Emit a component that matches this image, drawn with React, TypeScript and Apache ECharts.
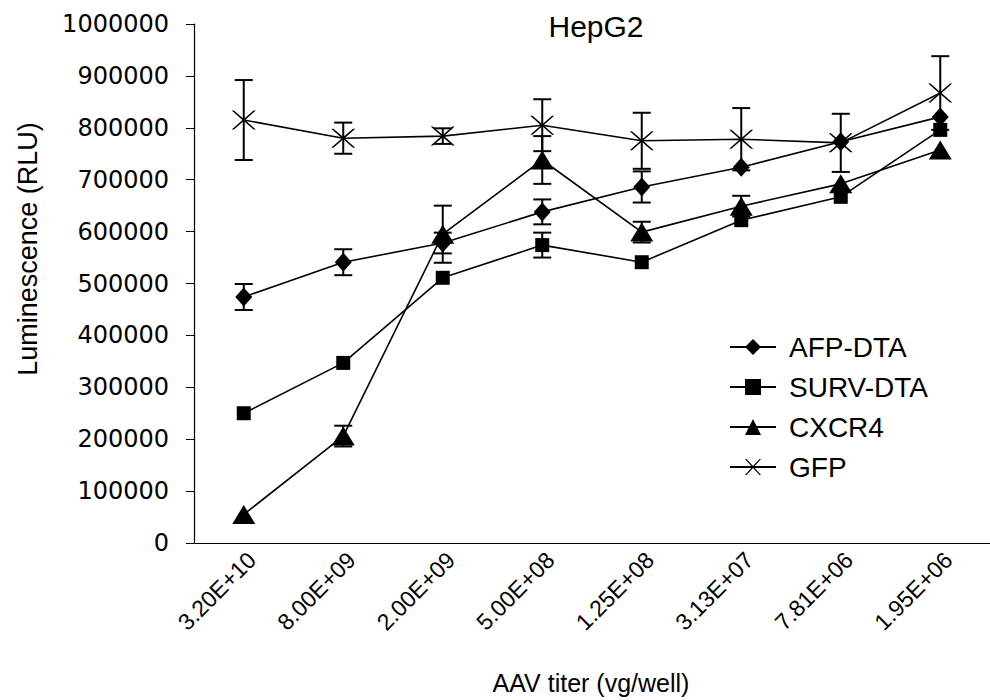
import React, { useEffect, useRef } from 'react';
import * as echarts from 'echarts';

const categories = ['3.20E+10', '8.00E+09', '2.00E+09', '5.00E+08', '1.25E+08', '3.13E+07', '7.81E+06', '1.95E+06'];

const afpDta = [474000, 541000, 578000, 638000, 686000, 724000, 773000, 821000];
const afpErr = [25000, 25000, 20000, 24000, 30000, 0, 0, 0];

const survDta = [250000, 347000, 511000, 574000, 541000, 622000, 667000, 796000];
const survErr = [0, 0, 0, 24000, 0, 0, 0, 0];

const cxcr4 = [55000, 206000, 595000, 738000, 599000, 649000, 692000, 757000];
const cxcr4Err = [0, 20000, 55000, 46000, 20000, 20000, 0, 0];

const gfp = [815000, 780000, 784000, 805000, 775000, 778000, 771000, 867000];
const gfpErr = [77000, 30000, 15000, 50000, 54000, 60000, 56000, 71000];

const titleText = 'HepG2';
const xName = 'AAV titer (vg/well)';
const yName = 'Luminescence (RLU)';

const X_SYMBOL = 'path://M0,0 L2.2,0 L12,8 L21.8,0 L24,0 L13.3,9 L24,18 L21.8,18 L12,10 L2.2,18 L0,18 L10.7,9 Z';

function errData(vals: number[], errs: number[]) {
  const out: number[][] = [];
  vals.forEach((v, i) => {
    if (errs[i] > 0) out.push([i, v - errs[i], v + errs[i]]);
  });
  return out;
}

export default function App() {
  const ref = useRef<HTMLDivElement>(null);
  useEffect(() => {
    if (!ref.current) return;
    const chart = echarts.init(ref.current, undefined, { renderer: 'svg' });
    const errRender = (params: any, api: any) => {
      const x = api.value(0);
      const lo = api.coord([x, api.value(1)]);
      const hi = api.coord([x, api.value(2)]);
      const w = 9;
      const st = { stroke: '#000', lineWidth: 2 };
      return {
        type: 'group',
        children: [
          { type: 'line', shape: { x1: hi[0], y1: hi[1], x2: lo[0], y2: lo[1] }, style: st },
          { type: 'line', shape: { x1: hi[0] - w, y1: hi[1], x2: hi[0] + w, y2: hi[1] }, style: st },
          { type: 'line', shape: { x1: lo[0] - w, y1: lo[1], x2: lo[0] + w, y2: lo[1] }, style: st },
        ],
      };
    };
    const errSeries = (name: string, vals: number[], errs: number[]) => ({
      type: 'custom',
      name: name + ' error',
      renderItem: errRender,
      data: errData(vals, errs),
      encode: { x: 0, y: [1, 2] },
      z: 3,
      silent: true,
    });
    const lineBase = {
      type: 'line',
      lineStyle: { color: '#000', width: 1.6 },
      itemStyle: { color: '#000' },
      z: 4,
    };
    chart.setOption({
      animation: false,
      backgroundColor: '#fff',
      title: {
        text: titleText,
        left: 591,
        top: 6,
        textAlign: 'center',
        textStyle: { fontFamily: 'Liberation Sans', fontSize: 30, fontWeight: 'normal', color: '#000' },
      },
      legend: {
        orient: 'vertical',
        left: 729,
        top: 333,
        padding: 0,
        itemWidth: 46,
        itemHeight: 20,
        itemGap: 12,
        data: ['AFP-DTA', 'SURV-DTA', 'CXCR4', 'GFP'],
        textStyle: { fontFamily: 'Liberation Sans', fontSize: 28, color: '#000', padding: [0, 0, 0, 8] },
      },
      grid: { left: 194, right: -9, top: 24, bottom: 157 },
      xAxis: {
        type: 'category',
        data: categories,
        boundaryGap: true,
        axisLine: { lineStyle: { color: '#000', width: 1.2 } },
        axisTick: { show: false },
        axisLabel: {
          rotate: 45,
          margin: 5,
          verticalAlign: 'top',
          color: '#000',
          fontFamily: 'Liberation Sans',
          fontSize: 23,
          interval: 0,
        },
      },
      yAxis: {
        type: 'value',
        min: 0,
        max: 1000000,
        interval: 100000,
        splitLine: { show: false },
        axisLine: { show: true, lineStyle: { color: '#000', width: 1.2 } },
        axisTick: { show: true, length: 8, lineStyle: { color: '#000' } },
        axisLabel: {
          color: '#000',
          fontFamily: 'DejaVu Sans',
          fontSize: 24,
          margin: 25,
          formatter: (v: number) => String(v),
        },
      },
      graphic: [
        {
          type: 'text',
          x: 28,
          y: 249,
          rotation: Math.PI / 2,
          style: {
            text: yName,
            fontFamily: 'Liberation Sans',
            fontSize: 27,
            fill: '#000',
            textAlign: 'center',
            textVerticalAlign: 'middle',
          },
        },
        {
          type: 'text',
          x: 591,
          y: 683,
          style: {
            text: xName,
            fontFamily: 'Liberation Sans',
            fontSize: 25,
            fill: '#000',
            textAlign: 'center',
            textVerticalAlign: 'middle',
          },
        },
      ],
      series: [
        errSeries('AFP-DTA', afpDta, afpErr),
        errSeries('SURV-DTA', survDta, survErr),
        errSeries('CXCR4', cxcr4, cxcr4Err),
        errSeries('GFP', gfp, gfpErr),
        { ...lineBase, name: 'AFP-DTA', data: afpDta, symbol: 'diamond', symbolSize: [17, 19] },
        { ...lineBase, name: 'SURV-DTA', data: survDta, symbol: 'rect', symbolSize: 14 },
        { ...lineBase, name: 'CXCR4', data: cxcr4, symbol: 'triangle', symbolSize: [23, 19] },
        { ...lineBase, name: 'GFP', data: gfp, symbol: X_SYMBOL, symbolSize: [24, 19] },
      ],
    });
    return () => chart.dispose();
  }, []);
  return <div ref={ref} style={{ position: 'absolute', left: 0, top: 0, width: 990, height: 700 }} />;
}
